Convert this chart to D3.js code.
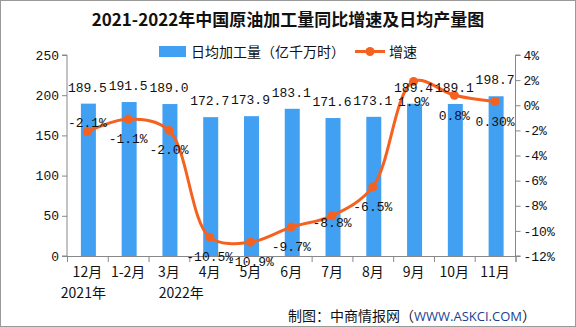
<!DOCTYPE html>
<html><head><meta charset="utf-8">
<script src="https://cdn.jsdelivr.net/npm/d3@7"></script>
<style>body{margin:0;background:#fff}svg{display:block}</style>
</head><body><svg id="c" width="576" height="327"></svg>
<script>
const categories = ["12月","1-2月","3月","4月","5月","6月","7月","8月","9月","10月","11月"];
const output = [189.5,191.5,189.0,172.7,173.9,183.1,171.6,173.1,189.4,189.1,198.7];
const outputLabels = ["189.5","191.5","189.0","172.7","173.9","183.1","171.6","173.1","189.4","189.1","198.7"];
const growth = [-2.1,-1.1,-2.0,-10.5,-10.9,-9.7,-8.8,-6.5,1.9,0.8,0.3];
const growthLabels = ["-2.1%","-1.1%","-2.0%","-10.5%","-10.9%","-9.7%","-8.8%","-6.5%","1.9%","0.8%","0.30%"];
const leftTicks = [0,50,100,150,200,250];
const rightTicks = [-12,-10,-8,-6,-4,-2,0,2,4];
const yearLabels = [{text:"2021年", at:"12月"},{text:"2022年", at:"4月"}];
const title = "2021-2022年中国原油加工量同比增速及日均产量图";
const legendBar = "日均加工量（亿千万时）";
const legendLine = "增速";

const svg = d3.select("#c");
const L = 67, R = 515.5, T = 55, B = 256;
const x = d3.scaleBand().domain(categories).range([L,R]);
const yL = d3.scaleLinear().domain([0,250]).range([B,T]);
const yR = d3.scaleLinear().domain([-12,4]).range([B,T]);
const mono = "'Liberation Mono','DejaVu Sans Mono',monospace";
const cjk = "'Noto Sans CJK SC','Noto Sans',sans-serif";

svg.append("rect").attr("x",0.5).attr("y",0.5).attr("width",575).attr("height",326)
  .attr("fill","#fff").attr("stroke","#9a9a9a");

svg.append("text").attr("x",288).attr("y",26).attr("text-anchor","middle")
  .attr("font-family",cjk).attr("font-weight","bold").attr("font-size",17).attr("fill","#111").text(title);

// bars
const bw = 15;
svg.selectAll("rect.bar").data(output).join("rect").attr("class","bar")
  .attr("x",(d,i)=>x(categories[i])+x.bandwidth()/2-bw/2+1)
  .attr("width",bw).attr("y",d=>yL(d)).attr("height",d=>B-yL(d)).attr("fill","#41a0f2");

// axes
const axL = d3.axisLeft(yL).tickValues(leftTicks).tickSize(5).tickPadding(3);
const gL = svg.append("g").attr("transform",`translate(${L},0)`).call(axL);
const axR = d3.axisRight(yR).tickValues(rightTicks).tickSize(5).tickPadding(3).tickFormat(d=>d+"%");
const gR = svg.append("g").attr("transform",`translate(${R},0)`).call(axR);
const axB = d3.axisBottom(x).tickSize(6).tickFormat("");
const gB = svg.append("g").attr("transform",`translate(0,${B})`).call(axB);
gB.selectAll(".tick").remove();
categories.concat(["__end"]).forEach((c,i)=>{
  const xx = i<categories.length ? x(c) : R;
  gB.append("line").attr("x1",xx+0.5).attr("x2",xx+0.5).attr("y1",0).attr("y2",6).attr("stroke","#888");
});
[gL,gR,gB].forEach(g=>{
  g.selectAll("path.domain").attr("stroke","#888");
  g.selectAll(".tick line").attr("stroke","#888");
  g.selectAll("text").attr("font-family",mono).attr("font-size",13).attr("fill","#111");
});
gL.select("path.domain").attr("d",`M-5,${T}H0V${B}H-5`);
gR.select("path.domain").attr("d",`M5,${T}H0V${B}H5`);

// x labels
svg.selectAll("text.xl").data(categories).join("text").attr("class","xl")
  .attr("x",d=>x(d)+x.bandwidth()/2).attr("y",277).attr("text-anchor","middle")
  .attr("font-family",cjk).attr("font-size",14).attr("fill","#111").text(d=>d);
svg.selectAll("text.yr").data(yearLabels).join("text").attr("class","yr")
  .attr("x",d=>x(d.at)+(d.at==="12月"?x.bandwidth()/2-4:-8)).attr("y",298).attr("text-anchor","middle")
  .attr("font-family",cjk).attr("font-size",14).attr("fill","#111").text(d=>d.text);

// line
const pts = growth.map((g,i)=>[x(categories[i])+x.bandwidth()/2, yR(g)]);
svg.append("path").attr("d",d3.line().curve(d3.curveCatmullRom.alpha(0.5))(pts))
  .attr("fill","none").attr("stroke","#f5621f").attr("stroke-width",3);
svg.selectAll("circle.pt").data(pts).join("circle").attr("class","pt")
  .attr("cx",d=>d[0]).attr("cy",d=>d[1]).attr("r",4.5).attr("fill","#f5621f");

// value labels
svg.selectAll("text.vl").data(output).join("text").attr("class","vl")
  .attr("x",(d,i)=>x(categories[i])+x.bandwidth()/2).attr("y",d=>yL(d)-12)
  .attr("text-anchor","middle").attr("font-family",mono).attr("font-size",13).attr("fill","#111")
  .text((d,i)=>outputLabels[i]);
// growth labels
const offs = [-5,24,24,24,24,24,11,24,25,25,25];
svg.selectAll("text.gl").data(growth).join("text").attr("class","gl")
  .attr("x",(d,i)=>pts[i][0]).attr("y",(d,i)=>pts[i][1]+offs[i])
  .attr("text-anchor","middle").attr("font-family",mono).attr("font-size",13).attr("fill","#111")
  .text((d,i)=>growthLabels[i]);

// legend
svg.append("rect").attr("x",159).attr("y",46).attr("width",27).attr("height",11).attr("fill","#41a0f2");
svg.append("text").attr("x",191).attr("y",57).attr("font-family",cjk).attr("font-size",14).attr("fill","#111").text(legendBar);
svg.append("line").attr("x1",355).attr("x2",385).attr("y1",51.5).attr("y2",51.5).attr("stroke","#f5621f").attr("stroke-width",3);
svg.append("circle").attr("cx",370).attr("cy",51.5).attr("r",4.5).attr("fill","#f5621f");
svg.append("text").attr("x",389).attr("y",57).attr("font-family",cjk).attr("font-size",14).attr("fill","#111").text(legendLine);

// footer
const ft = svg.append("text").attr("x",288).attr("y",321).attr("font-family",cjk).attr("font-size",14).attr("fill","#111");
ft.append("tspan").text("制图：中商情报网（");
ft.append("tspan").attr("fill","#1b3f8f").attr("font-family","'Open Sans',sans-serif").attr("font-size",13).text("WWW.ASKCI.COM");
ft.append("tspan").text("）");
</script></body></html>
